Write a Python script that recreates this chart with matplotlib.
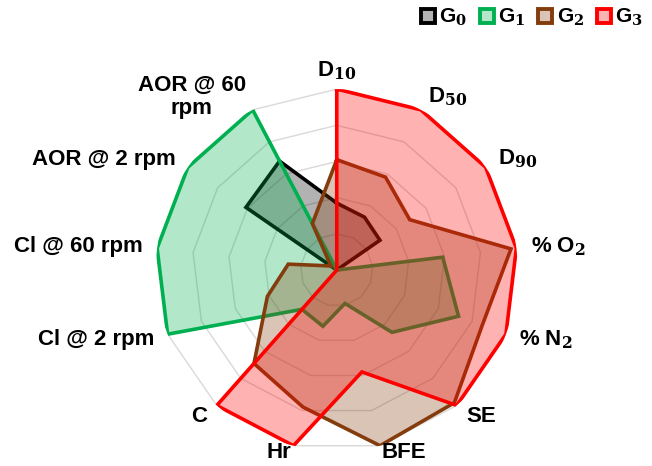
import numpy as np
import matplotlib
matplotlib.use('Agg')
import matplotlib.pyplot as plt
from matplotlib.lines import Line2D

plt.rcParams['font.family'] = ['Liberation Sans', 'DejaVu Sans']
plt.rcParams['font.weight'] = 'bold'
plt.rcParams['mathtext.fontset'] = 'dejavuserif'

# Radar axes (clockwise from top)
labels = ['D$_{10}$', 'D$_{50}$', 'D$_{90}$', '% O$_2$', '% N$_2$', 'SE', 'BFE', 'Hr', 'C',
          'Cl @ 2 rpm', 'Cl @ 60 rpm', 'AOR @ 2 rpm', 'AOR @ 60\nrpm']

g0 = [0.37, 0.33, 0.29, 0, 0, 0, 0, 0, 0, 0, 0, 0.61, 0.68]
g1 = [0, 0, 0, 0.59, 0.72, 0.46, 0.19, 0.32, 0.29, 1.0, 1.0, 1.0, 1.0]
g2 = [0.61, 0.58, 0.49, 0.97, 0.86, 0.98, 1.0, 0.78, 0.69, 0.41, 0.27, 0.04, 0.29]
g3 = [1.0, 1.0, 1.0, 1.0, 1.0, 1.0, 0.58, 1.0, 1.0, 0, 0, 0, 0]

series_names = ['G$_0$', 'G$_1$', 'G$_2$', 'G$_3$']
series = [g0, g1, g2, g3]
colours = ['#000000', '#00B050', '#843C0C', '#FF0000']

n = len(labels)
theta = np.arange(n) * 2 * np.pi / n
theta_c = np.append(theta, theta[0])

F1 = plt.figure(figsize=(6.52, 4.66), dpi=100)
ax = F1.add_axes([0.239, 0.032, 0.555, 0.777], projection='polar')
ax.set_theta_offset(np.pi / 2)
ax.set_theta_direction(-1)
ax.set_ylim(0, 1)
ax.grid(False)
ax.spines['polar'].set_visible(False)
ax.set_xticks([])
ax.set_yticks([])

# polygonal grid rings
for rr in [0.2, 0.4, 0.6, 0.8, 1.0]:
    ax.plot(theta_c, [rr] * (n + 1), color='#d9d9d9', lw=1.0, zorder=0)

# each series drawn on top of the previous one (fill over earlier lines)
z = 1
for vals, c in zip(series, colours):
    v = np.append(vals, vals[0])
    ax.fill(theta_c, v, color=c, alpha=0.3, lw=0, zorder=z)
    ax.plot(theta_c, v, color=c, lw=2.6, solid_joinstyle='miter', zorder=z + 1)
    z += 2

# axis labels
for t, lab in zip(theta, labels):
    s = np.sin(t); c = np.cos(t)
    if s > 0.1:
        ha = 'left'
    elif s < -0.1:
        ha = 'right'
    else:
        ha = 'center'
    va = 'bottom' if c > 0.95 else 'center'
    r = 1.04 if (c > 0.95 or c < -0.9) else 1.08
    ax.text(t, r, lab, ha=ha, va=va, fontsize=16, fontweight='bold',
            multialignment='center', linespacing=1.15, zorder=20)

handles = [Line2D([], [], ls='none', marker='s', markersize=10,
                  markerfacecolor=matplotlib.colors.to_rgba(c, 0.3),
                  markeredgecolor=c, markeredgewidth=2.8) for c in colours]
F1.legend(handles, series_names, loc='upper right', bbox_to_anchor=(1.015, 1.025),
          ncol=4, frameon=False, fontsize=15, handlelength=0.7,
          handletextpad=0.2, columnspacing=0.6)

plt.savefig('out.png', dpi=100)
